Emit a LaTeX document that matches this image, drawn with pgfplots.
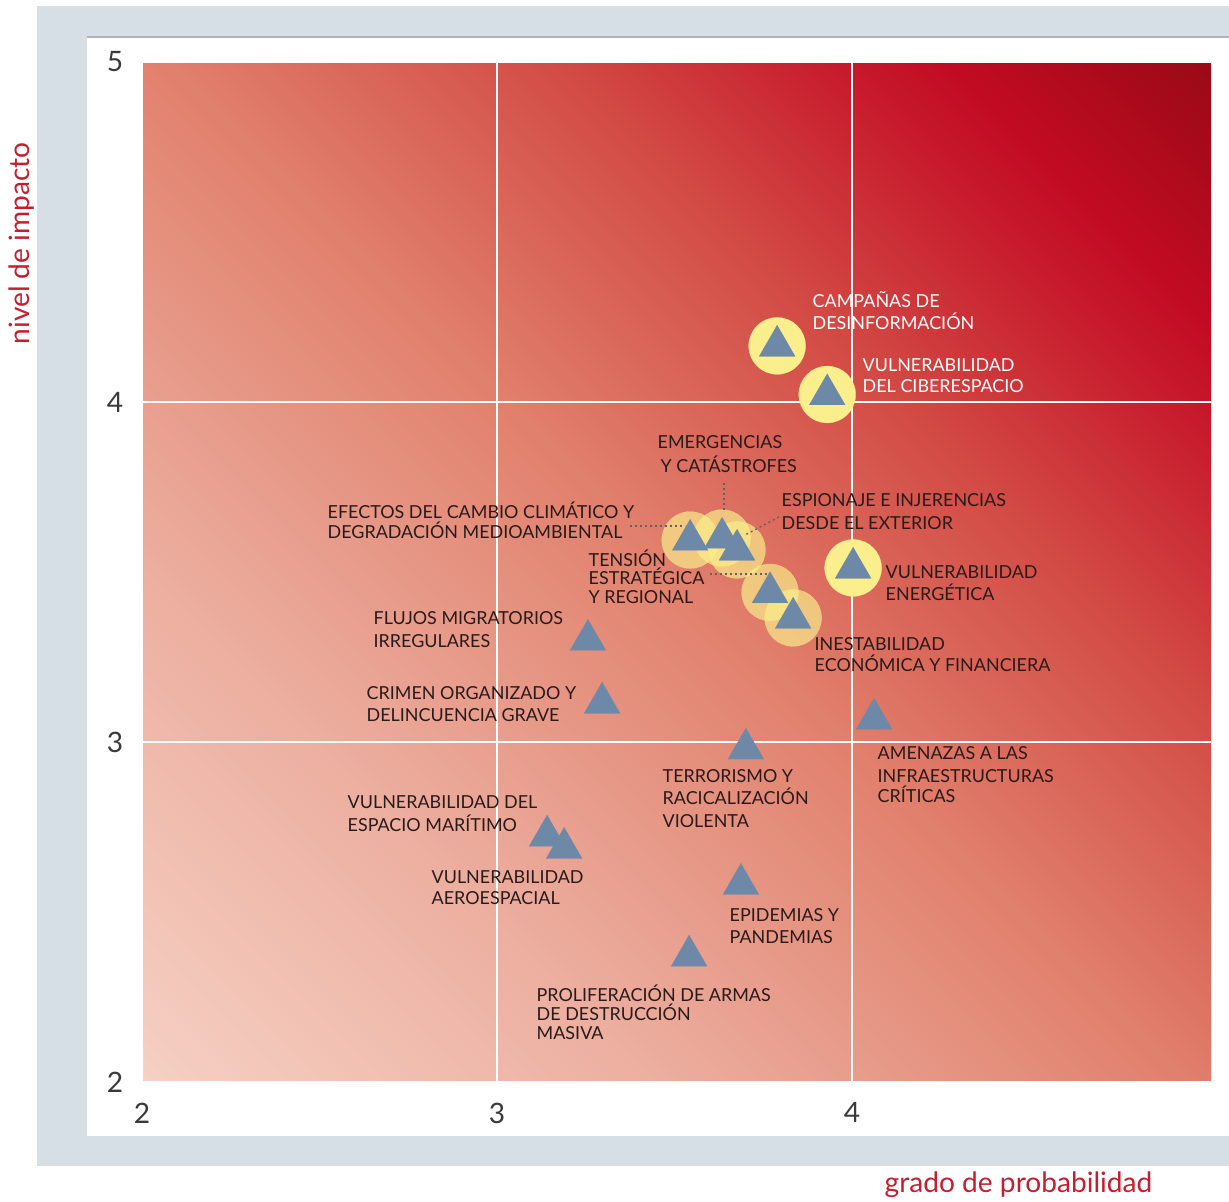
\documentclass[border=0pt]{standalone}
\usepackage{fontspec}
\setmainfont{Lato}
\usepackage{pgfplots}
\pgfplotsset{compat=1.18}

\definecolor{bgpanel}{HTML}{D6DEE6}
\definecolor{tickgray}{HTML}{3A3A3A}
\definecolor{titlered}{HTML}{C41E30}
\definecolor{labdark}{HTML}{2A1A1A}
\definecolor{tri}{HTML}{6E88A8}
\definecolor{halo}{HTML}{FAEF8C}
\definecolor{rs0}{HTML}{F5D0C3}
\definecolor{rs1}{HTML}{ECAE9F}
\definecolor{rs2}{HTML}{E1806C}
\definecolor{rs3}{HTML}{D24A44}
\definecolor{rs4}{HTML}{C81E2E}
\definecolor{rs5}{HTML}{C20B22}
\definecolor{rs6}{HTML}{9A0A17}
\pgfdeclareverticalshading{riskshade}{100bp}{color(0bp)=(rs0); color(14.64bp)=(rs0); color(32.3bp)=(rs1); color(50bp)=(rs2); color(63.5bp)=(rs3); color(72bp)=(rs4); color(76.5bp)=(rs5); color(85.36bp)=(rs6); color(100bp)=(rs6)}

\tikzset{
  lab/.style={anchor=base west, inner sep=0pt, font=\fontsize{5.1}{6}\selectfont, text=labdark},
  leader/.style={draw=labdark!70, line width=0.14mm, dash pattern=on 0.2mm off 0.3mm}
}
\newcommand\lb[4][labdark]{\node[lab, text=#1] at (#2,#3) {#4};}

\begin{document}
\begin{tikzpicture}
\useasboundingbox (0,0) rectangle (122.9mm,-120.2mm);
\begin{scope}[x=0.1mm, y=-0.1mm]
  \fill[bgpanel] (37,6) rectangle (1229,1166);
  \fill[white] (87,37) rectangle (1229,1136);
  \draw[black!30, line width=0.12mm] (87,37) -- (1229,37);
\end{scope}

\begin{axis}[
  at={(14.2mm,-108.2mm)}, anchor=south west,
  scale only axis, width=106.9mm, height=102mm,
  xmin=2, xmax=5.011, ymin=2, ymax=5,
  xtick={2,3,4}, ytick={2,3,4,5},
  axis line style={draw=none},
  major tick length=0pt,
  grid=major, grid style={white, line width=0.6pt},
  axis background/.style={shade, shading=riskshade, shading angle=-45},
  ticklabel style={font=\fontsize{8}{9}\selectfont, text=tickgray, inner sep=0pt},
  xticklabel style={anchor=north, yshift=-2mm},
  yticklabel style={anchor=east, xshift=-1.8mm},
  /pgf/number format/assume math mode=true,
  clip=false,
]
% halos: isolated ones
\addplot[only marks, mark=*, mark size=8.1pt, color=halo, mark options={draw=halo, fill=halo, line width=0.05pt}]
  coordinates {(3.789,4.165) (3.930,4.022) (4.003,3.512)};
% halos: cluster
\addplot[only marks, mark=*, mark size=8.1pt, color=halo, mark options={draw=halo, fill=halo, line width=0.05pt, opacity=0.68}]
  coordinates {(3.544,3.594) (3.634,3.600) (3.676,3.565) (3.769,3.440) (3.834,3.365)};
% risks
\addplot[only marks, mark=triangle*, mark size=5.9pt, color=tri, mark options={draw=tri, fill=tri, line width=0.05pt}]
  coordinates {
  (3.789,4.165) (3.930,4.022) (3.544,3.594) (3.634,3.600) (3.676,3.565)
  (4.003,3.512) (3.769,3.440) (3.834,3.365) (3.256,3.300) (3.296,3.115)
  (4.062,3.068) (3.701,2.980) (3.141,2.724) (3.189,2.688) (3.687,2.582)
  (3.541,2.371)};
\end{axis}

\begin{scope}[x=0.1mm, y=-0.1mm]
  \node[rotate=90, anchor=base west, inner sep=0pt, font=\fontsize{8}{9}\selectfont, text=titlered] at (29,345) {nivel de impacto};
  \node[anchor=base west, inner sep=0pt, font=\fontsize{8}{9}\selectfont, text=titlered] at (884,1192) {grado de probabilidad};

  \draw[leader] (630,526) -- (685,526);
  \draw[leader] (724,483) -- (724,512);
  \draw[leader] (779,517) -- (745,535);
  \draw[leader] (710,574) -- (767,574);

  \lb[white]{812}{308}{CAMPAÑAS DE}
  \lb[white]{812}{330}{DESINFORMACIÓN}
  \lb[white]{862}{372}{VULNERABILIDAD}
  \lb[white]{862}{393}{DEL CIBERESPACIO}
  \lb{657}{449}{EMERGENCIAS}
  \lb{660}{473}{Y CATÁSTROFES}
  \lb{781}{507}{ESPIONAJE E INJERENCIAS}
  \lb{781}{530}{DESDE EL EXTERIOR}
  \lb{327}{519}{EFECTOS DEL CAMBIO CLIMÁTICO Y}
  \lb{327}{539}{DEGRADACIÓN MEDIOAMBIENTAL}
  \lb{588}{567}{TENSIÓN}
  \lb{588}{585}{ESTRATÉGICA}
  \lb{588}{604}{Y REGIONAL}
  \lb{885}{579}{VULNERABILIDAD}
  \lb{885}{601}{ENERGÉTICA}
  \lb{814}{651}{INESTABILIDAD}
  \lb{814}{672}{ECONÓMICA Y FINANCIERA}
  \lb{373}{625}{FLUJOS MIGRATORIOS}
  \lb{373}{648}{IRREGULARES}
  \lb{366}{700}{CRIMEN ORGANIZADO Y}
  \lb{366}{722}{DELINCUENCIA GRAVE}
  \lb{877}{760}{AMENAZAS A LAS}
  \lb{877}{782}{INFRAESTRUCTURAS}
  \lb{877}{803}{CRÍTICAS}
  \lb{662}{782}{TERRORISMO Y}
  \lb{662}{805}{RACICALIZACIÓN}
  \lb{662}{828}{VIOLENTA}
  \lb{347}{809}{VULNERABILIDAD DEL}
  \lb{347}{831}{ESPACIO MARÍTIMO}
  \lb{431}{883}{VULNERABILIDAD}
  \lb{431}{904}{AEROESPACIAL}
  \lb{729}{921}{EPIDEMIAS Y}
  \lb{729}{943}{PANDEMIAS}
  \lb{536}{1001}{PROLIFERACIÓN DE ARMAS}
  \lb{536}{1020}{DE DESTRUCCIÓN}
  \lb{536}{1039}{MASIVA}
\end{scope}
\end{tikzpicture}
\end{document}
